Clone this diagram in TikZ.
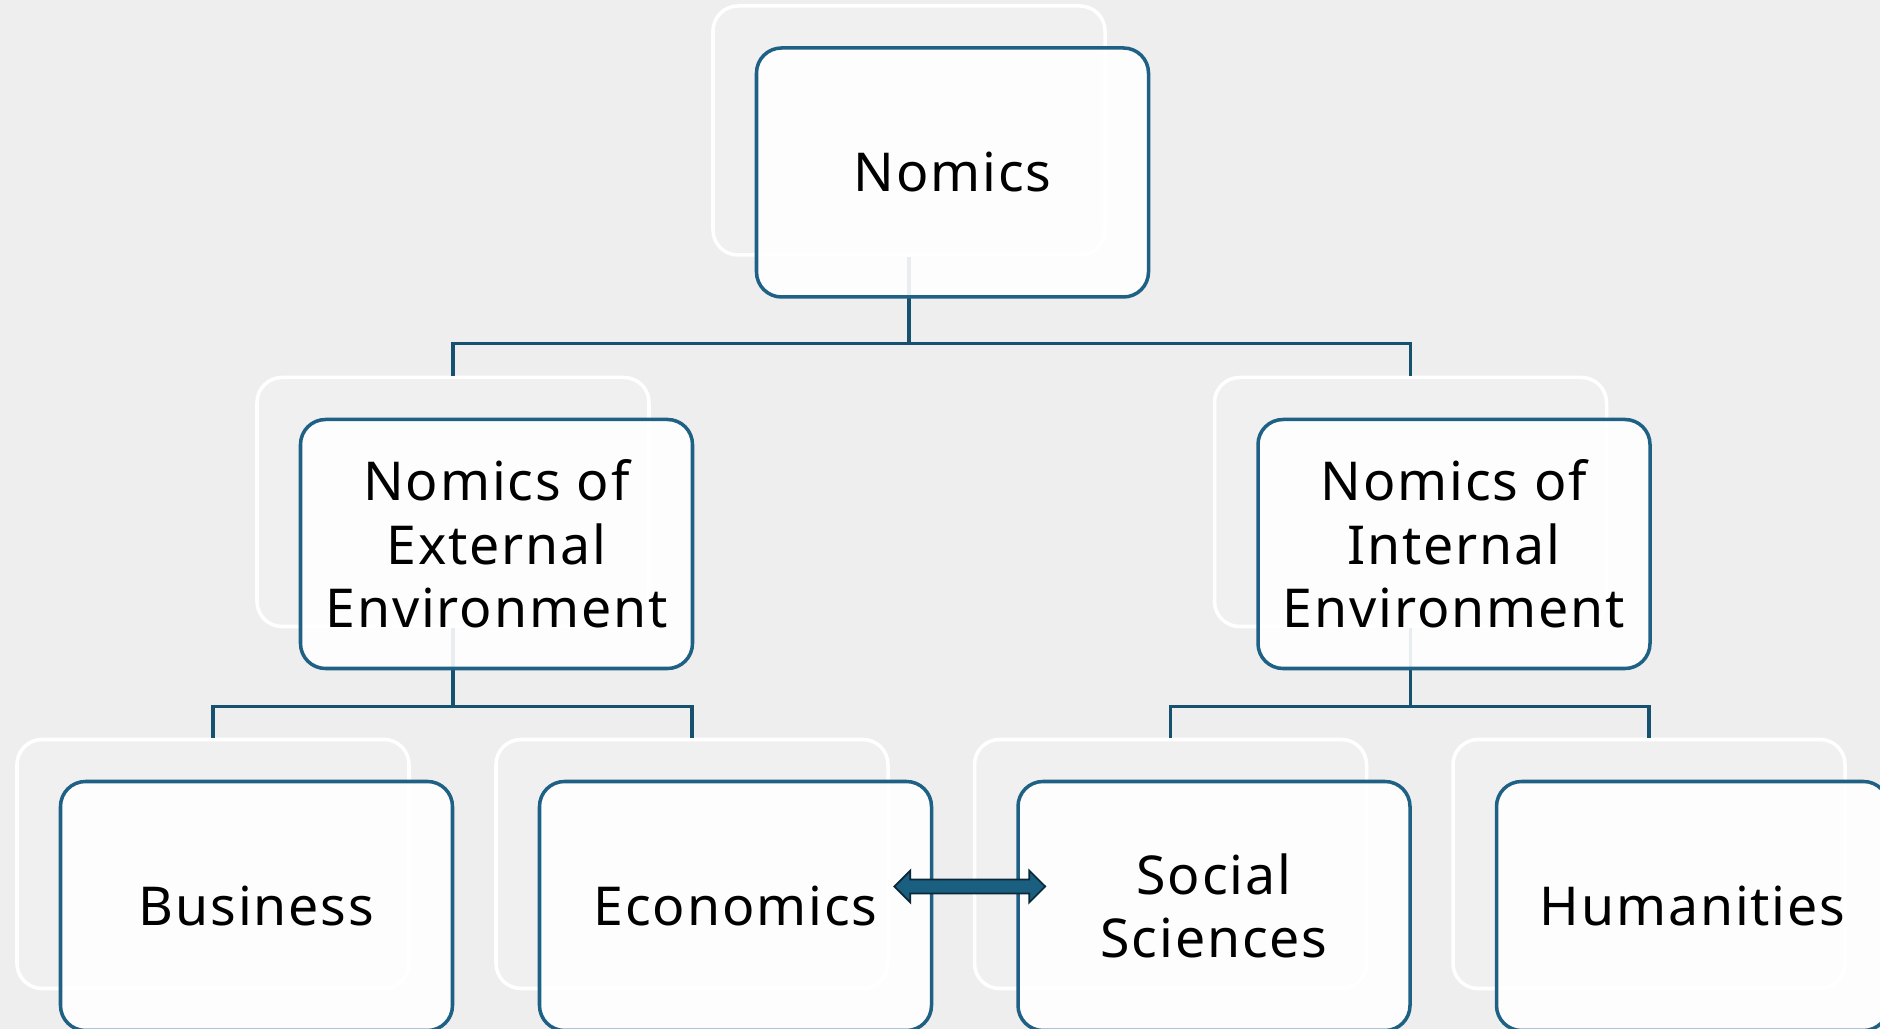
\documentclass[tikz,border=0pt]{standalone}
\usepackage{fontspec}
\setmainfont[LetterSpace=3.5]{Noto Sans}
\usetikzlibrary{calc}

\definecolor{boxblue}{RGB}{30,97,133}
\definecolor{linkblue}{RGB}{22,82,112}
\definecolor{bggrey}{RGB}{238,238,239}
\definecolor{arrowfill}{RGB}{26,94,128}
\definecolor{arrowedge}{RGB}{12,40,56}

\begin{document}
\begin{tikzpicture}[
    backbox/.style={draw=white, line width=2pt, rounded corners=0.5cm, fill=white, fill opacity=0.15, draw opacity=1, minimum width=7.84cm, minimum height=4.98cm, inner sep=0pt},
    frontbox/.style={draw=boxblue, line width=2pt, rounded corners=0.5cm, fill=white, fill opacity=0.9, text opacity=1, minimum width=7.84cm, minimum height=4.98cm, inner sep=0pt, align=center, font=\fontsize{30.5}{36}\selectfont},
    link/.style={draw=linkblue, line width=1.9pt},
    dblarrow/.style={fill=arrowfill, draw=arrowedge, line width=1pt, line join=miter}
  ]
    \useasboundingbox (0,0) rectangle (37.6,20.58);
    \clip (0,0) rectangle (37.6,20.58);
    \fill[bggrey] (0,0) rectangle (37.6,20.58);

    \coordinate (Tb) at (18.18,17.97);
    \coordinate (Eb) at (9.06,10.54);
    \coordinate (Ib) at (28.21,10.54);
    \coordinate (Bb) at (4.26,3.30);
    \coordinate (Cb) at (13.84,3.30);
    \coordinate (Sb) at (23.41,3.30);
    \coordinate (Hb) at (32.98,3.30);

    % shadow boxes
    \node[backbox] (nomicsB) at (Tb) {};
    \node[backbox] (extB) at (Eb) {};
    \node[backbox] (intB) at (Ib) {};
    \node[backbox] (busB) at (Bb) {};
    \node[backbox] (econB) at (Cb) {};
    \node[backbox] (socB) at (Sb) {};
    \node[backbox] (humB) at (Hb) {};

    % tree lines
    \draw[link] (nomicsB.south) -- ++(0,-1.74) coordinate (j1);
    \draw[link] (j1) -| (extB.north);
    \draw[link] (j1) -| (intB.north);

    \draw[link] (extB.south) -- ++(0,-1.56) coordinate (j2);
    \draw[link] (j2) -| (busB.north);
    \draw[link] (j2) -| (econB.north);

    \draw[link] (intB.south) -- ++(0,-1.56) coordinate (j3);
    \draw[link] (j3) -| (socB.north);
    \draw[link] (j3) -| (humB.north);

    % boxes
    \node[frontbox] (nomics) at ([shift={(0.87,-0.84)}]Tb) {Nomics};
    \node[frontbox] (ext) at ([shift={(0.87,-0.84)}]Eb) {Nomics of\\External\\Environment};
    \node[frontbox] (int) at ([shift={(0.87,-0.84)}]Ib) {Nomics of\\Internal\\Environment};
    \node[frontbox] (bus) at ([shift={(0.87,-0.84)}]Bb) {Business};
    \node[frontbox] (econ) at ([shift={(0.87,-0.84)}]Cb) {Economics};
    \node[frontbox] (social) at ([shift={(0.87,-0.84)}]Sb) {Social\\Sciences};
    \node[frontbox] (hum) at ([shift={(0.87,-0.84)}]Hb) {Humanities};

    % two-way arrow
    \coordinate (al) at ([shift={(-0.78,0.39)}]econ.east);
    \coordinate (ar) at ([shift={(0.58,0.39)}]social.west);
    \draw[dblarrow] (al) -- ++(0.32,0.32) -- ++(0,-0.18) -- ($(ar)+(-0.32,0.14)$) -- ++(0,0.18) -- (ar)
        -- ++(-0.32,-0.32) -- ++(0,0.18) -- ($(al)+(0.32,-0.14)$) -- ++(0,-0.18) -- cycle;
\end{tikzpicture}
\end{document}
